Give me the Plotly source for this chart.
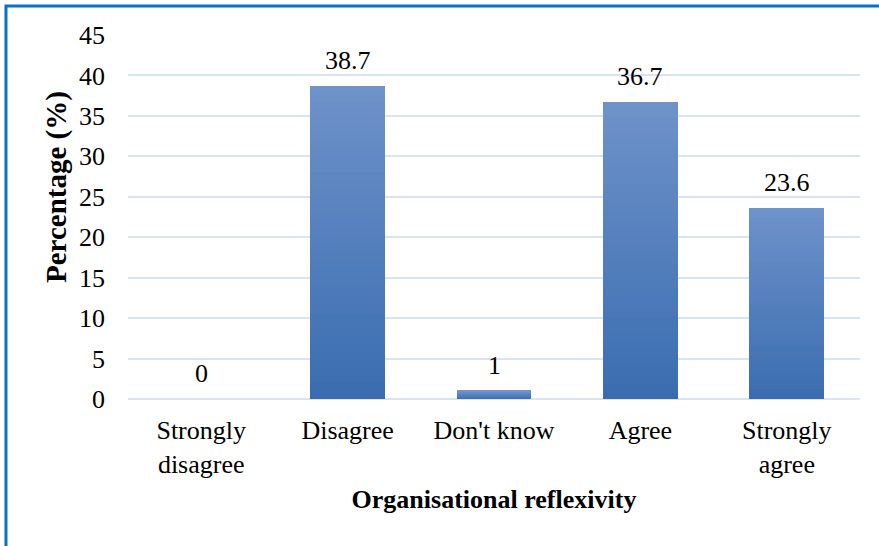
import plotly.graph_objects as go

# Survey responses on organisational reflexivity
categories = ["Strongly<br>disagree", "Disagree", "Don't know", "Agree", "Strongly<br>agree"]
percentages = [0, 38.7, 1, 36.7, 23.6]
y_ticks = [0, 5, 10, 15, 20, 25, 30, 35, 40, 45]

FONT = "Liberation Serif, Times New Roman, serif"
BOTTOM_RGB = (58, 109, 176)
TOP_RGB = (110, 146, 202)
N_STEPS = 40

fig = go.Figure()

# Each bar is built from thin stacked slices that fade from dark (bottom) to light (top)
for i in range(N_STEPS):
    t = i / (N_STEPS - 1)
    rgb = tuple(round(b + (tp - b) * t) for b, tp in zip(BOTTOM_RGB, TOP_RGB))
    fig.add_trace(go.Bar(
        x=categories,
        y=[v / N_STEPS for v in percentages],
        marker=dict(color="rgb(%d,%d,%d)" % rgb, line=dict(width=0)),
        showlegend=False,
        hoverinfo="skip",
    ))

# Value labels above each bar
for cat, v in zip(categories, percentages):
    fig.add_annotation(
        x=cat, y=v, text=("%g" % v), showarrow=False,
        yanchor="bottom", yshift=9,
        font=dict(family=FONT, size=26, color="#000000"),
    )

# Vertical axis title
fig.add_annotation(
    xref="paper", yref="paper",
    x=(57 - 128) / 732, y=(399 - 187) / 364,
    text="<b>Percentage (%)</b>", textangle=-90, showarrow=False,
    xanchor="center", yanchor="middle",
    font=dict(family=FONT, size=29, color="#000000"),
)

# Outer frame line
fig.add_shape(
    type="rect", xref="paper", yref="paper",
    x0=-0.1667, x1=1.2, y0=-0.6, y1=1.0797,
    line=dict(color="rgb(10,112,204)", width=3),
    fillcolor="rgba(0,0,0,0)", layer="above",
)

fig.update_layout(
    width=879, height=546,
    margin=dict(l=128, r=19, t=35, b=147, autoexpand=False),
    paper_bgcolor="white", plot_bgcolor="white",
    barmode="stack", bargap=0.49,
    font=dict(family=FONT, size=26, color="#000000"),
    xaxis=dict(
        showline=False, showgrid=False, ticks="",
        ticklabelstandoff=13,
        tickfont=dict(family=FONT, size=26),
        title=dict(text="<b>Organisational reflexivity</b>", standoff=12,
                   font=dict(family=FONT, size=26)),
    ),
    yaxis=dict(
        range=[0, 45], tickvals=y_ticks,
        showgrid=True, gridcolor="rgb(217,228,242)", gridwidth=1.5,
        zeroline=True, zerolinecolor="rgb(217,228,242)", zerolinewidth=1.5,
        showline=False, ticks="",
        ticklabelstandoff=22,
        tickfont=dict(family=FONT, size=26),
    ),
)

fig.write_html("out.html")
